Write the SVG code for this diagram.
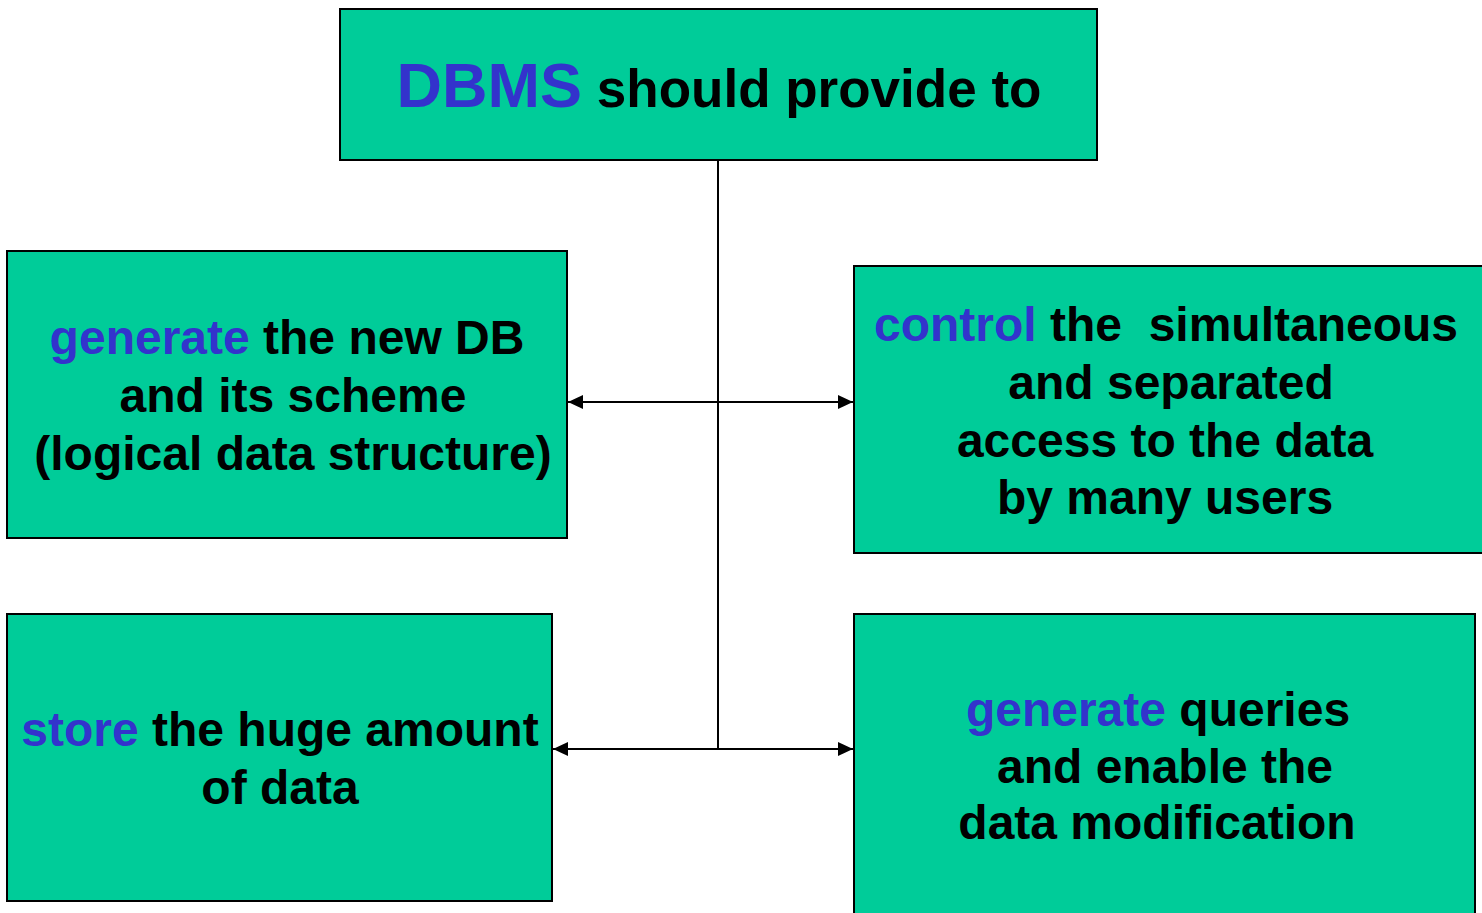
<svg xmlns="http://www.w3.org/2000/svg" width="1482" height="913" viewBox="0 0 1482 913">
<style>
.box{fill:#00CC99;stroke:#000;stroke-width:2}
.t{font-family:"Liberation Sans",Arial,sans-serif;font-weight:bold;font-size:48px;fill:#000;text-anchor:middle;white-space:pre}
.b{fill:#3333CC}
.c{stroke:#000;stroke-width:2;fill:none}
</style>
<defs>
<marker id="ah" viewBox="0 0 15 14" refX="15" refY="7" markerWidth="15" markerHeight="14" markerUnits="userSpaceOnUse" orient="auto-start-reverse">
<path d="M0,0 L15,7 L0,14 Z" fill="#000"/>
</marker>
</defs>
<rect width="1482" height="913" fill="#fff"/>
<g id="connectors">
<line class="c" x1="718" y1="160" x2="718" y2="749"/>
<line class="c" x1="568" y1="402" x2="853" y2="402" marker-start="url(#ah)" marker-end="url(#ah)"/>
<line class="c" x1="553" y1="749" x2="853" y2="749" marker-start="url(#ah)" marker-end="url(#ah)"/>
</g>
<g id="top">
<rect class="box" x="340" y="9" width="757" height="151"/>
<text class="t" x="719" y="107" style="font-size:53px"><tspan class="b" style="font-size:63px">DBMS</tspan> should provide to</text>
</g>
<g id="generate-db">
<rect class="box" x="7" y="251" width="560" height="287"/>
<text class="t" x="287" y="354"><tspan class="b">generate</tspan> the new DB</text>
<text class="t" x="293" y="412">and its scheme</text>
<text class="t" x="293" y="470">(logical data structure)</text>
</g>
<g id="control">
<rect class="box" x="854" y="266" width="640" height="287"/>
<text class="t" x="1166" y="341"><tspan class="b">control</tspan> the  simultaneous</text>
<text class="t" x="1171" y="399">and separated</text>
<text class="t" x="1165" y="457">access to the data</text>
<text class="t" x="1165" y="514">by many users</text>
</g>
<g id="store">
<rect class="box" x="7" y="614" width="545" height="287"/>
<text class="t" x="280" y="746"><tspan class="b">store</tspan> the huge amount</text>
<text class="t" x="280" y="804">of data</text>
</g>
<g id="queries">
<rect class="box" x="854" y="614" width="621" height="310"/>
<text class="t" x="1158" y="726"><tspan class="b">generate</tspan> queries</text>
<text class="t" x="1165" y="783">and enable the</text>
<text class="t" x="1157" y="839">data modification</text>
</g>
</svg>
